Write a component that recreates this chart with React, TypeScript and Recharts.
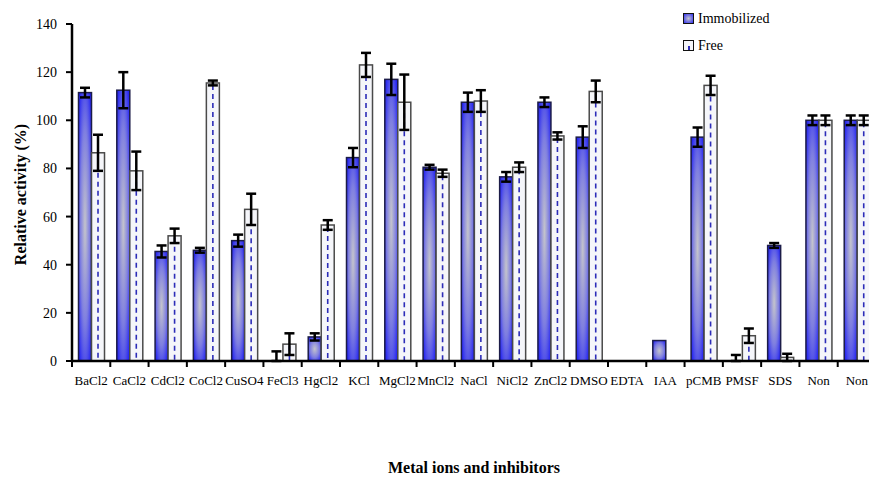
import { BarChart, Bar, XAxis, YAxis, ErrorBar, Label } from "recharts";

const categories = ["BaCl2", "CaCl2", "CdCl2", "CoCl2", "CuSO4", "FeCl3", "HgCl2", "KCl", "MgCl2", "MnCl2", "NaCl", "NiCl2", "ZnCl2", "DMSO", "EDTA", "IAA", "pCMB", "PMSF", "SDS", "Non", "Non"];
const immobilized = [111.5, 112.5, 45.5, 46, 50, 0, 10, 84.5, 117, 80.5, 107.5, 76.5, 107.5, 93, 0, 8.5, 93, 0, 48, 100, 100];
const immobilizedErr: (number | number[])[] = [2, 7.5, 2.5, 1, 2.5, [0, 4], 1.5, 4, 6.5, 1, 4, 2, 2, 4.5, 0, 0, 4, [0, 2.5], 1, 2, 2];
const free = [86.5, 79, 52, 115.5, 63, 7, 56.5, 123, 107.5, 78, 108, 80.5, 93.5, 112, 0, 0, 114.5, 10.5, 1.5, 100, 100];
const freeErr: (number | number[])[] = [7.5, 8, 3, 1, 6.5, 4.5, 2, 5, 11.5, 1.5, 4.5, 2, 1.5, 4.5, 0, 0, 4, 3, 1.5, 2, 2];
const yTicks = [0, 20, 40, 60, 80, 100, 120, 140];

const data = categories.map((name, i) => ({
  name,
  imm: immobilized[i],
  immErr: immobilizedErr[i],
  free: free[i],
  freeErr: freeErr[i],
}));

const FONT = "Liberation Serif";

function FreeShape(props: any) {
  const { x, y, width, height } = props;
  if (!height || height <= 0) return null;
  const cx = x + width / 2;
  return (
    <g>
      <rect x={x} y={y} width={width} height={height} fill="#f5f6fa" stroke="#4a4a4a" strokeWidth={1.5} />
      <line x1={cx} y1={y + 2} x2={cx} y2={y + height} stroke="#2c2cb8" strokeWidth={1.6} strokeDasharray="5 4" />
    </g>
  );
}

function ImmShape(props: any) {
  const { x, y, width, height } = props;
  if (!height || height <= 0) return null;
  return <rect x={x} y={y} width={width} height={height} fill="url(#immGrad)" stroke="#1c1c48" strokeWidth={1.5} />;
}

// tick marks sit on the band edges, labels below the category centre
function renderXTick(props: any) {
  const { x, payload, index } = props;
  const half = payload && payload.offset ? payload.offset : 19.15;
  const top = 361;
  return (
    <g key={`xt-${index}`}>
      <line x1={x - half} y1={top} x2={x - half} y2={top + 6} stroke="#000" strokeWidth={2} />
      <text x={x} y={top + 24} textAnchor="middle" fontSize={13} fontFamily={FONT} fill="#000">
        {payload.value}
      </text>
    </g>
  );
}

export default function App() {
  return (
    <div style={{ position: "absolute", left: 0, top: 0, width: 869, height: 477, overflow: "hidden", background: "#fff", fontFamily: FONT }}>
      <BarChart width={900} height={477} data={data} margin={{ top: 24, right: 24, left: 20, bottom: 0 }} barCategoryGap="17%" barGap={0}>
        <defs>
          <radialGradient id="immGrad" cx="50%" cy="50%" r="65%">
            <stop offset="0%" stopColor="#c4c4cc" />
            <stop offset="55%" stopColor="#7f7fe0" />
            <stop offset="100%" stopColor="#2222f2" />
          </radialGradient>
        </defs>
        <XAxis
          dataKey="name"
          height={116}
          interval={0}
          tickLine={false}
          axisLine={{ stroke: "#000", strokeWidth: 2.5 }}
          tick={renderXTick}
        >
          <Label
            content={(p: any) => {
              const vb = p.viewBox;
              return (
                <text x={vb.x + vb.width / 2} y={vb.y + 106} textAnchor="middle" dominantBaseline="central" fontSize={16} fontWeight="bold" fontFamily={FONT} fill="#000">
                  Metal ions and inhibitors
                </text>
              );
            }}
          />
        </XAxis>
        <YAxis
          width={52}
          domain={[0, 140]}
          ticks={yTicks}
          interval={0}
          tickSize={6}
          tickMargin={9}
          axisLine={{ stroke: "#000", strokeWidth: 2.5 }}
          tickLine={{ stroke: "#000", strokeWidth: 2 }}
          tick={{ fontSize: 14, fontFamily: FONT, fill: "#000" }}
        >
          <Label
            content={(p: any) => {
              const vb = p.viewBox;
              const cx = vb.x;
              const cy = vb.y + vb.height / 2 + 2;
              return (
                <text x={cx} y={cy} textAnchor="middle" dominantBaseline="central" fontSize={16} fontWeight="bold" fontFamily={FONT} fill="#000" transform={`rotate(-90, ${cx}, ${cy})`}>
                  Relative activity (%)
                </text>
              );
            }}
          />
        </YAxis>
        <Bar dataKey="imm" shape={(p: any) => <ImmShape {...p} />} isAnimationActive={false}>
          <ErrorBar dataKey="immErr" width={5} stroke="#000" strokeWidth={2.5} isAnimationActive={false} />
        </Bar>
        <Bar dataKey="free" shape={(p: any) => <FreeShape {...p} />} isAnimationActive={false}>
          <ErrorBar dataKey="freeErr" width={5} stroke="#000" strokeWidth={2.5} isAnimationActive={false} />
        </Bar>
      </BarChart>
      <div style={{ position: "absolute", left: 683, top: 5, fontSize: 14, lineHeight: "27px", color: "#000" }}>
        <div style={{ display: "flex", alignItems: "center" }}>
          <span style={{ width: 9, height: 9, border: "1.5px solid #111", background: "radial-gradient(#c4c4cc, #3030f0)", marginRight: 4, display: "inline-block" }} />
          Immobilized
        </div>
        <div style={{ display: "flex", alignItems: "center" }}>
          <span style={{ width: 9, height: 9, border: "1.5px solid #111", background: "#f5f6fa", marginRight: 4, display: "inline-block", position: "relative" }}>
            <span style={{ position: "absolute", left: 4, top: 5, width: 1.5, height: 4, background: "#2c2cb8" }} />
          </span>
          Free
        </div>
      </div>
    </div>
  );
}
